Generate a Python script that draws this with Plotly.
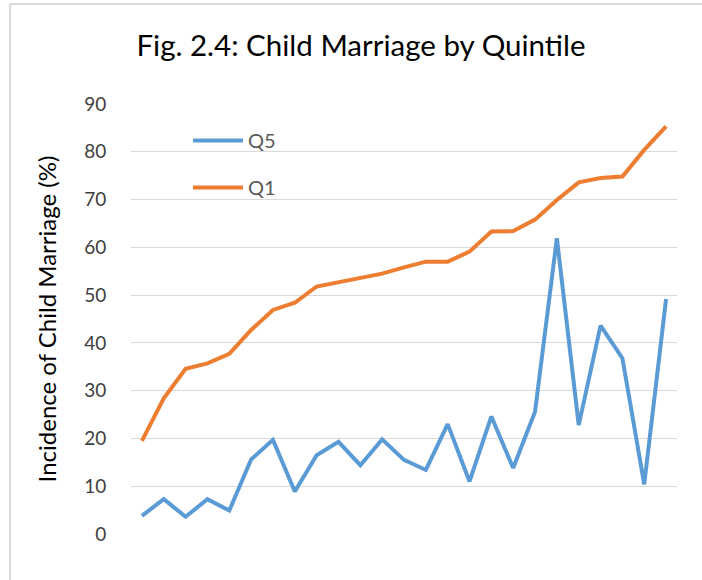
import plotly.graph_objects as go

categories = list(range(1, 26))
q5 = [3.8, 7.3, 3.6, 7.3, 4.9, 15.6, 19.7, 8.9, 16.5, 19.3, 14.4, 19.8, 15.5,
      13.4, 23.0, 11.0, 24.6, 13.8, 25.6, 61.9, 22.8, 43.6, 36.8, 10.4, 49.2]
q1 = [19.5, 28.4, 34.6, 35.7, 37.7, 42.7, 46.9, 48.4, 51.8, 52.7, 53.5, 54.5, 55.8,
      57.0, 57.0, 59.1, 63.3, 63.4, 65.8, 69.9, 73.6, 74.5, 74.8, 80.4, 85.3]
y_ticks = [0, 10, 20, 30, 40, 50, 60, 70, 80, 90]

W, H = 702, 580
L, R, T, B = 131, 25, 104, 46
pw, ph = W - L - R, H - T - B

def px(x):
    return (x - L) / pw

def py(y):
    return (H - B - y) / ph

FONT = "Lato"

fig = go.Figure()
fig.add_trace(go.Scatter(x=categories, y=q5, mode="lines", name="Q5",
                         line=dict(color="#5B9BD5", width=4), legendgroup="a"))
fig.add_trace(go.Scatter(x=categories, y=q1, mode="lines", name="Q1",
                         line=dict(color="#ED7D31", width=4), legendgroup="b"))

fig.update_layout(
    width=W, height=H,
    margin=dict(l=L, r=R, t=T, b=B),
    paper_bgcolor="white", plot_bgcolor="white",
    font=dict(family=FONT, color="#595959"),
    title=dict(text="Fig. 2.4: Child Marriage by Quintile",
               font=dict(family=FONT, size=29.5, color="#000000"),
               x=px(361), xref="paper", xanchor="center",
               y=1 - 46 / H, yanchor="middle"),
    legend=dict(x=px(188), y=py(121), xanchor="left", yanchor="top",
                font=dict(family=FONT, size=20, color="#595959"),
                bgcolor="rgba(0,0,0,0)", tracegroupgap=18,
                itemwidth=50),
    showlegend=True,
)
fig.update_xaxes(range=[0.5, 25.5], showticklabels=False, showgrid=False,
                 zeroline=False, showline=False, ticks="")
fig.update_yaxes(range=[0, 90], tickvals=y_ticks, showgrid=True,
                 gridcolor="#D9D9D9", gridwidth=1, zeroline=False,
                 showline=False, ticks="outside", ticklen=20,
                 tickcolor="rgba(0,0,0,0)",
                 tickfont=dict(family=FONT, size=19, color="#404040"),
                 title=dict(text="Incidence of Child Marriage (%)",
                            font=dict(family=FONT, size=24, color="#000000"),
                            standoff=20))

# outer chart border (left and top edges visible in reference)
fig.add_shape(type="line", xref="paper", yref="paper",
              x0=px(10), x1=px(10), y0=py(4), y1=py(H + 5),
              line=dict(color="#D9D9D9", width=2), layer="below")
fig.add_shape(type="line", xref="paper", yref="paper",
              x0=px(10), x1=px(W + 5), y0=py(4), y1=py(4),
              line=dict(color="#D9D9D9", width=2), layer="below")

fig.write_html("out.html",
               config={"displayModeBar": False},
               post_script="document.body.style.margin='0';"
                           "document.body.style.overflow='hidden';")
